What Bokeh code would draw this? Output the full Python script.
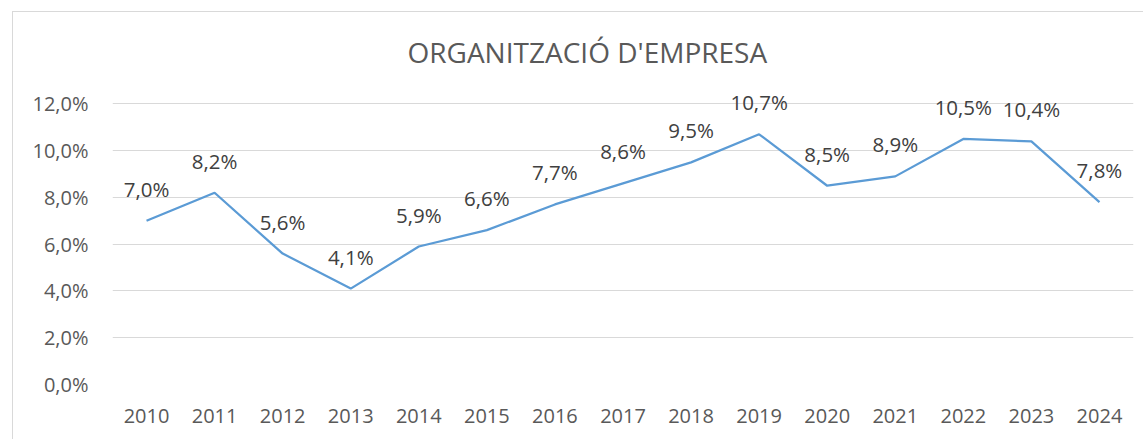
from bokeh.plotting import figure
from bokeh.models import ColumnDataSource, FixedTicker, FactorRange, Range1d
from bokeh.core.properties import value
from bokeh.embed import file_html
from bokeh.resources import INLINE

years = ["2010", "2011", "2012", "2013", "2014", "2015", "2016", "2017",
         "2018", "2019", "2020", "2021", "2022", "2023", "2024"]
rates = [7.0, 8.2, 5.6, 4.1, 5.9, 6.6, 7.7, 8.6, 9.5, 10.7, 8.5, 8.9, 10.5, 10.4, 7.8]
y_ticks = [0, 2, 4, 6, 8, 10, 12]
title_text = "ORGANITZACIÓ D'EMPRESA"

labels = [f"{v:.1f}".replace(".", ",") + "%" for v in rates]
src = ColumnDataSource(dict(year=years, rate=rates, label=labels))

FONT = "Open Sans"

p = figure(x_range=FactorRange(*years), y_range=Range1d(0, 13),
           width=1131, height=428, output_backend="svg", toolbar_location=None,
           min_border_left=99, min_border_right=11, min_border_bottom=56, min_border_top=68)
p.styles = {"margin-left": "12px", "margin-top": "11px",
            "border-left": "1px solid #d9d9d9", "border-top": "1px solid #d9d9d9"}

p.title.text = title_text
p.title.text_font = FONT
p.title.text_font_size = "28px"
p.title.text_font_style = "normal"
p.title.text_color = "#595959"
p.title.align = "left"
p.title.offset = 295
p.title.standoff = 20

p.outline_line_color = None
p.xgrid.grid_line_color = None
p.ygrid.grid_line_color = "#d9d9d9"
p.ygrid.grid_line_width = 1
p.yaxis.ticker = FixedTicker(ticks=y_ticks)
p.yaxis.major_label_overrides = {t: f"{t:.1f}".replace(".", ",") + "%" for t in y_ticks}

for ax in (p.xaxis, p.yaxis):
    ax.axis_line_color = None
    ax.major_tick_line_color = None
    ax.minor_tick_line_color = None
    ax.major_tick_out = 0
    ax.major_tick_in = 0
    ax.major_label_text_font = FONT
    ax.major_label_text_font_size = "20px"
    ax.major_label_text_color = "#595959"
p.yaxis.major_label_standoff = 24
p.xaxis.major_label_standoff = 24

p.line("year", "rate", source=src, line_color="#5B9BD5", line_width=2.25)
p.text("year", "rate", text="label", source=src, y_offset=-32,
       text_align="center", text_baseline="middle",
       text_font=value(FONT), text_font_size="20.5px", text_color="#404040")

open("out.html", "w").write(file_html(p, INLINE))
